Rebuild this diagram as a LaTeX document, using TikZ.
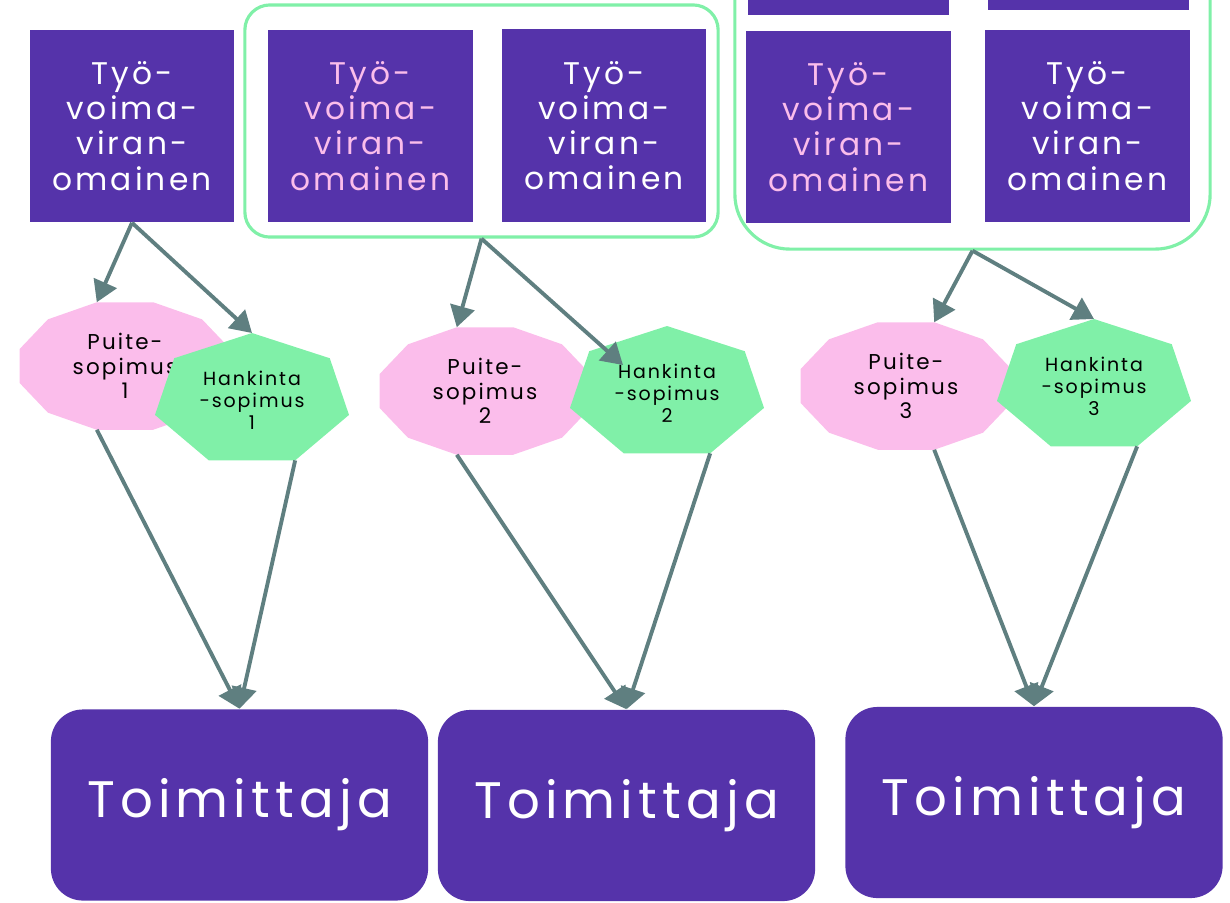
\documentclass[tikz,border=0pt]{standalone}
\usepackage{fontspec}
\newfontfamily\tvfont{Poppins}[LetterSpace=10]
\usetikzlibrary{arrows.meta,calc}
\definecolor{tvpurple}{HTML}{5533AA}
\definecolor{tvpink}{HTML}{FBBDEB}
\definecolor{tvgreen}{HTML}{80F0A8}
\definecolor{tvarrow}{HTML}{5F7F80}

\begin{document}
\begin{tikzpicture}[x=0.01cm,y=-0.01cm,>={Triangle[length=6pt,width=7pt]},
    viranomainen/.style={fill=tvpurple,text=white,inner sep=0pt,align=center,
      minimum width=2.04cm,minimum height=1.92cm,font=\tvfont\fontsize{8.9}{10}\selectfont},
    pinktext/.style={text=tvpink},
    ryhma/.style={draw=tvgreen,line width=0.9pt,rounded corners=#1,inner sep=0pt},
    toimittaja/.style={fill=tvpurple,text=white,rounded corners=0.32cm,inner sep=0pt,
      minimum width=3.77cm,minimum height=1.91cm,font=\tvfont\fontsize{14.6}{16}\selectfont},
    puitetext/.style={align=center,inner sep=0pt,font=\tvfont\fontsize{6.1}{7}\selectfont},
    hankintatext/.style={align=center,inner sep=0pt,font=\tvfont\fontsize{5.4}{6.3}\selectfont},
    yhteys/.style={every edge/.append style={draw,color=tvarrow,line width=1.1pt}}]
  \useasboundingbox (0,0) rectangle (1230,902);
  \clip (0,0) rectangle (1230,902);

  % viranomaiset
  \node[viranomainen] (tv1) at (132,126) {Työ-\\voima-\\viran-\\omainen};

  \node[ryhma=0.25cm,minimum width=4.73cm,minimum height=2.32cm] (g2) at (481.5,121) {};
  \node[viranomainen,pinktext] (tv2a) at (370.5,126) {Työ-\\voima-\\viran-\\omainen};
  \node[viranomainen] (tv2b) at (604,125.5) {Työ-\\voima-\\viran-\\omainen};

  \node[ryhma=0.55cm,minimum width=4.75cm,minimum height=3.49cm] (g3) at (972.5,74.5) {};
  \node[viranomainen,minimum width=2.01cm,minimum height=1.95cm] (tv3c) at (848.5,-82.5) {};
  \node[viranomainen,minimum width=2.01cm,minimum height=1.95cm] (tv3d) at (1088.5,-87.5) {};
  \node[viranomainen,pinktext] (tv3a) at (848.5,127) {Työ-\\voima-\\viran-\\omainen};
  \node[viranomainen] (tv3b) at (1087.5,126) {Työ-\\voima-\\viran-\\omainen};

  % sopimukset
  \coordinate (cp1) at (125,366);  \coordinate (ch1) at (252,400);
  \coordinate (cp2) at (485,391);  \coordinate (ch2) at (667,393);
  \coordinate (cp3) at (906,386);  \coordinate (ch3) at (1094,386);

  \foreach \n in {1,2,3} {
    \fill[tvpink,shift={(cp\n)}] (15:109 and 66)
      \foreach \a in {45,75,...,345} { -- (\a:109 and 66) } -- cycle;
    \node[puitetext] (p\n) at (cp\n) {Puite-\\sopimus\\\n};
    \fill[tvgreen,shift={(ch\n)}] (270:99.5 and 67)
      \foreach \k in {1,...,6} { -- ({270+\k*51.4286}:99.5 and 67) } -- cycle;
    \node[hankintatext] (h\n) at (ch\n) {Hankinta\\-sopimus\\\n};
  }

  % toimittajat
  \node[toimittaja] (t1) at (239.5,805) {Toimittaja};
  \node[toimittaja] (t2) at (626.5,805.5) {Toimittaja};
  \node[toimittaja] (t3) at (1034,802.5) {Toimittaja};

  \path[->,yhteys]
        (tv1.south) edge ($(p1)+(255:109 and 66)$)
        (tv1.south) edge ($(h1)+(270:99.5 and 67)$)
        (g2.south) edge ($(p2)+(255:109 and 66)$)
        (g2.south) edge ($(h2)+(-44,-28)$)
        (g3.south) edge ($(p3)+(285:109 and 66)$)
        (g3.south) edge ($(h3)+(270:99.5 and 67)$)
        ($(p1)+(105:109 and 66)$) edge (t1.north)
        ($(h1)+(64.29:99.5 and 67)$) edge (t1.north)
        ($(p2)+(105:109 and 66)$) edge (t2.north)
        ($(h2)+(64.29:99.5 and 67)$) edge (t2.north)
        ($(p3)+(75:109 and 66)$) edge (t3.north)
        ($(h3)+(64.29:99.5 and 67)$) edge (t3.north);
\end{tikzpicture}
\end{document}
